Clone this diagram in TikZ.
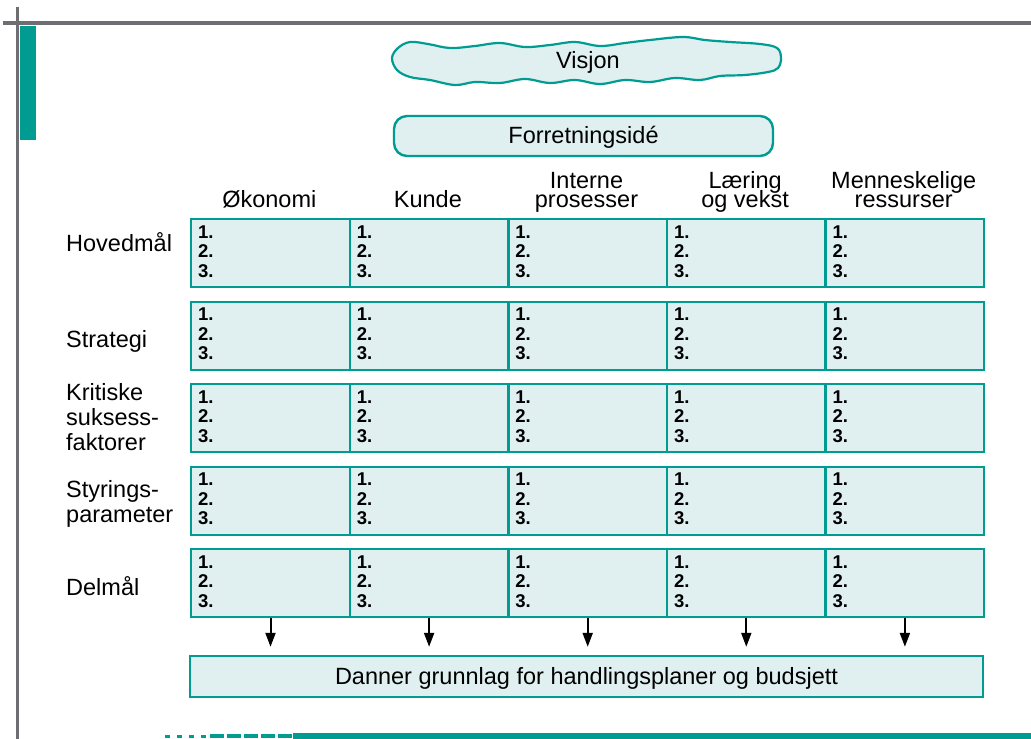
\documentclass[tikz,border=0pt]{standalone}
\usepackage{fontspec}
\setmainfont{Liberation Sans}
\usepackage{xcolor}
\usetikzlibrary{arrows.meta,positioning}
\definecolor{bsteal}{RGB}{0,155,145}
\definecolor{bsfill}{RGB}{224,240,240}
\definecolor{bsgray}{RGB}{110,110,114}
\newcommand{\tightlines}{\lineskiplimit-20pt\relax}

\begin{document}
\begin{tikzpicture}[x=1pt, y=-1pt,
  cell/.style={draw=bsteal, fill=bsfill, line width=2.4pt, minimum width=158.6pt, minimum height=68pt, inner sep=0pt, anchor=north west},
  nums/.style={font=\fontsize{18.5}{19.5}\selectfont\tightlines\bfseries, align=left, inner sep=0pt, anchor=north west},
  head/.style={font=\fontsize{23.5}{19.5}\selectfont\tightlines, align=center, inner sep=0pt, anchor=south},
  lab/.style={font=\fontsize{23.5}{25}\selectfont\tightlines, align=left, inner sep=0pt, anchor=north west},
  bar/.style={draw=bsteal, fill=bsfill, line width=2.4pt, font=\fontsize{23.5}{25}\selectfont, text height=17pt, text depth=2pt},
  arr/.style={-{Triangle[length=14pt, width=10pt]}, line width=2pt, shorten >=8pt},
  frame/.style={bsgray, line width=3.5pt}]
\useasboundingbox (0,0) rectangle (1031,739);
% page frame
\draw[frame] (3,23) -- (1031,23);
\draw[frame, line width=3pt] (17,7) -- (17,739);
\fill[bsteal] (20,26) rectangle (36,140);
\draw[bsteal, line width=5.5pt] (293,736) -- (1031,736);
\draw[bsteal, line width=3pt, dash pattern=on 5pt off 7pt] (165,736) -- (210,736);
\draw[bsteal, line width=4pt, dash pattern=on 14pt off 3pt] (210,736) -- (292,736);
% visjon
\draw[bsteal, fill=bsfill, line width=2.2pt] plot[smooth cycle, tension=0.6] coordinates {
  (392,58) (398,48) (410,42) (428,44) (450,48) (475,46) (500,43) (525,47) (550,45)
  (575,42) (600,46) (625,43) (650,40) (683,37) (705,40) (730,42) (760,44) (777,48)
  (781,58) (778,68) (768,72) (745,75) (720,76) (700,80) (675,78) (650,82) (625,80)
  (600,84) (575,80) (550,83) (525,79) (500,83) (475,82) (455,85) (430,80) (410,77) (397,70)};
\node[font=\fontsize{23.5}{25}\selectfont, inner sep=0pt] (visjon) at (588,62) {Visjon};
\node[bar, rounded corners=13pt, minimum width=379pt, minimum height=40pt, inner sep=0pt] (idee) at (583.5,136) {Forretningsidé};
% kolonner
\foreach \c/\txt in {1/{Økonomi\strut}, 2/{Kunde\strut}, 3/{Interne\\prosesser\strut},
    4/{Læring\\og vekst\strut}, 5/{Menneskelige\\ressurser\strut}}
  \node[head] (h\c) at ({269.3+158.6*(\c-1)},214) {\txt};
% rader
\node[lab] (r1) at (66,232) {\strut Hovedmål};
\node[lab] (r2) at (66,330) {\strut Strategi};
\node[lab] (r3) at (66,383) {\strut Kritiske\\suksess-\\faktorer};
\node[lab] (r4) at (66,480) {\strut Styrings-\\parameter};
\node[lab] (r5) at (66,576) {\strut Delmål};
\foreach \r/\t in {1/218,2/300.5,3/383,4/465.5,5/548}
  \foreach \c in {1,...,5} {
    \node[cell] (c\r-\c) at ({190+158.6*(\c-1)},\t) {};
    \node[nums] (n\r-\c) at ({198+158.6*(\c-1)},{\t+7.2}) {1.\\2.\\3.};
  }
\node[bar, minimum width=793pt, minimum height=41pt, inner sep=0pt] (grunnlag) at (586.5,676.5) {Danner grunnlag for handlingsplaner og budsjett};
\foreach \c in {1,...,5} \draw[arr] (c5-\c.south) -- (c5-\c.south |- grunnlag.north);
\end{tikzpicture}
\end{document}
